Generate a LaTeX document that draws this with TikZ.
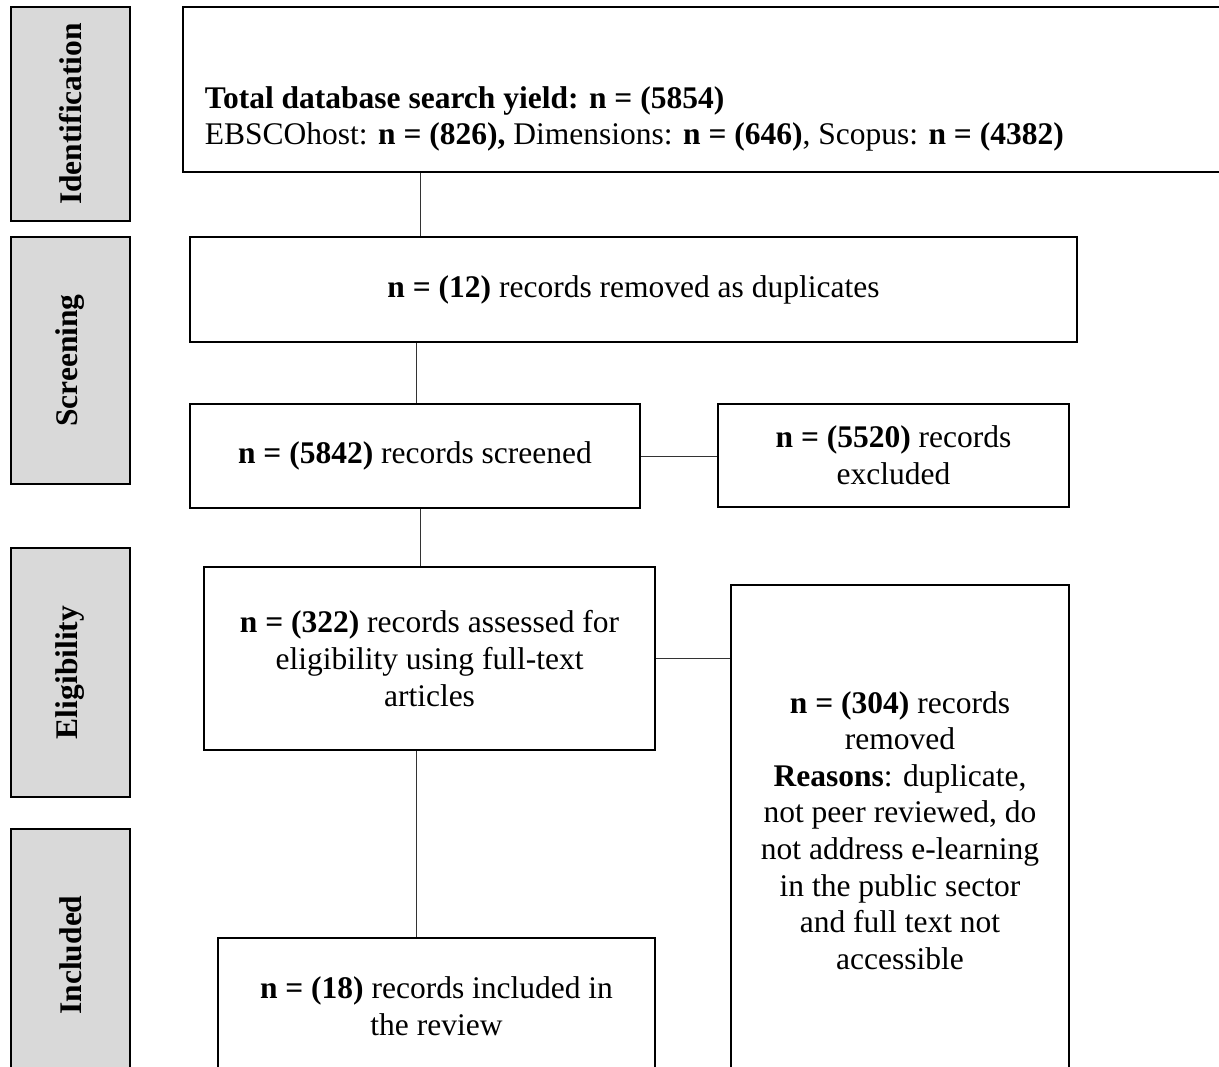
\documentclass[tikz,border=0pt]{standalone}
\usepackage{fontspec}
\setmainfont{Liberation Serif}
\definecolor{phasegray}{HTML}{D9D9D9}
\begin{document}
\begin{tikzpicture}[x=1pt,y=-1pt,
  box/.style={draw=black,line width=1.8pt,inner sep=0pt,align=center,
    font=\fontsize{31.5}{36.6}\selectfont},
  phase/.style={draw=black,line width=1.8pt,fill=phasegray,inner sep=0pt,
    rotate=90,font=\fontsize{31.5}{36}\selectfont\bfseries},
  conn/.style={line width=1pt,draw=black!80}]
\useasboundingbox (0,0) rectangle (1219,1067);
\clip (0,0) rectangle (1219,1067);
\fill[white] (0,0) rectangle (1219,1067);
% phase labels
\node[phase,minimum width=214pt,minimum height=119pt] (ph1) at (70.5,114) {Identification};
\node[phase,minimum width=247pt,minimum height=119pt] (ph2) at (70.5,360.5) {Screening};
\node[phase,minimum width=249pt,minimum height=119pt] (ph3) at (70.5,672.5) {Eligibility};
\node[phase,minimum width=252pt,minimum height=119pt] (ph4) at (70.5,955) {Included};
% boxes
\node[box,minimum width=1057pt,minimum height=165pt] (top) at (711.5,89.5) {};
\node[box,draw=none,anchor=west,align=left] (toptext) at (204,119)
  {\textbf{Total database search yield: n = (5854)}\\
   EBSCOhost: \textbf{n = (826),} Dimensions: \textbf{n = (646)}, Scopus: \textbf{n = (4382)}};
\node[box,minimum width=887pt,minimum height=105pt] (b2) at (633.5,289.5)
  {\textbf{n = (12)} records removed as duplicates};
\node[box,minimum width=450pt,minimum height=104pt] (b3) at (415,456)
  {\textbf{n = (5842)} records screened};
\node[box,minimum width=351pt,minimum height=103pt] (b4) at (893.5,455.5)
  {\textbf{n = (5520)} records\\excluded};
\node[box,minimum width=451pt,minimum height=183pt] (b5) at (429.5,658.5)
  {\textbf{n = (322)} records assessed for\\eligibility using full-text\\articles};
\node[box,minimum width=338pt,minimum height=491pt] (b6) at (900,830.5)
  {\textbf{n = (304)} records\\removed\\\textbf{Reasons}: duplicate,\\not peer reviewed, do\\not address e-learning\\in the public sector\\and full text not\\accessible};
\node[box,minimum width=437pt,minimum height=137pt] (b7) at (436.5,1006.5)
  {\textbf{n = (18)} records included in\\the review};
% connectors
\coordinate (xa) at (420,0);
\coordinate (xb) at (416,0);
\draw[conn] (top.south -| xa) -- (b2.north -| xa);
\draw[conn] (b2.south -| xb) -- (b3.north -| xb);
\draw[conn] (b3.south -| xa) -- (b5.north -| xa);
\draw[conn] (b5.south -| xb) -- (b7.north -| xb);
\draw[conn] (b3.east) -- (b4.west |- b3.east);
\draw[conn] (b5.east) -- (b6.west |- b5.east);
\end{tikzpicture}
\end{document}
